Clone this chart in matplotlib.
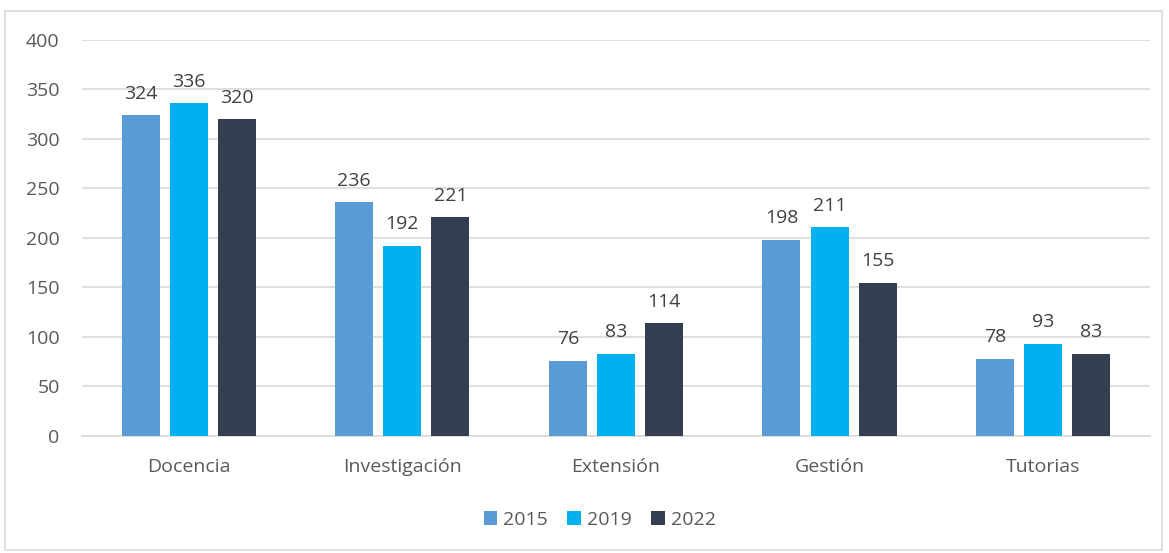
import numpy as np
import matplotlib.pyplot as plt
from matplotlib.patches import Rectangle

plt.rcParams['font.family'] = ['Open Sans', 'DejaVu Sans']

categorias = ["Docencia", "Investigación", "Extensión", "Gestión", "Tutorias"]
anios = ["2015", "2019", "2022"]
v2015 = [324, 236, 76, 198, 78]
v2019 = [336, 192, 83, 211, 93]
v2022 = [320, 221, 114, 155, 83]
colores = ["#5B9BD5", "#00B0F0", "#333F50"]

fig = plt.figure(figsize=(11.69, 5.53), dpi=100)
ax = fig.add_axes([0.0701, 0.2116, 0.9136, 0.7161])

x = np.arange(len(categorias))
ancho = 0.178
paso = 0.225
for i, (serie, col, anio) in enumerate(zip([v2015, v2019, v2022], colores, anios)):
    barras = ax.bar(x + (i - 1) * paso, serie, ancho, color=col, label=anio, zorder=3)
    ax.bar_label(barras, padding=9, fontsize=14, color="#404040")

ax.set_xlim(-0.5, len(categorias) - 0.5)
ax.set_ylim(0, 400)
ax.set_yticks(range(0, 401, 50))
ax.set_xticks(x)
ax.set_xticklabels(categorias)
ax.yaxis.grid(True, color="#D9D9D9", linewidth=1.2, zorder=0)
ax.tick_params(axis="both", length=0, labelsize=14, colors="#595959")
ax.tick_params(axis="x", pad=16)
ax.tick_params(axis="y", pad=16)
for lado in ["top", "right", "left"]:
    ax.spines[lado].set_visible(False)
ax.spines["bottom"].set_color("#D9D9D9")
ax.spines["bottom"].set_linewidth(1.2)

leg = fig.legend(loc="center", bbox_to_anchor=(0.513, 0.06), ncol=3, frameon=False,
                 fontsize=14, handlelength=0.7, handleheight=0.7, columnspacing=1.0,
                 handletextpad=0.3)
for t in leg.get_texts():
    t.set_color("#595959")

fig.patches.append(Rectangle((0.004, 0.005), 0.99, 0.975, transform=fig.transFigure,
                             fill=False, edgecolor="#D9D9D9", linewidth=1.2))

fig.savefig("out.png", dpi=100)
